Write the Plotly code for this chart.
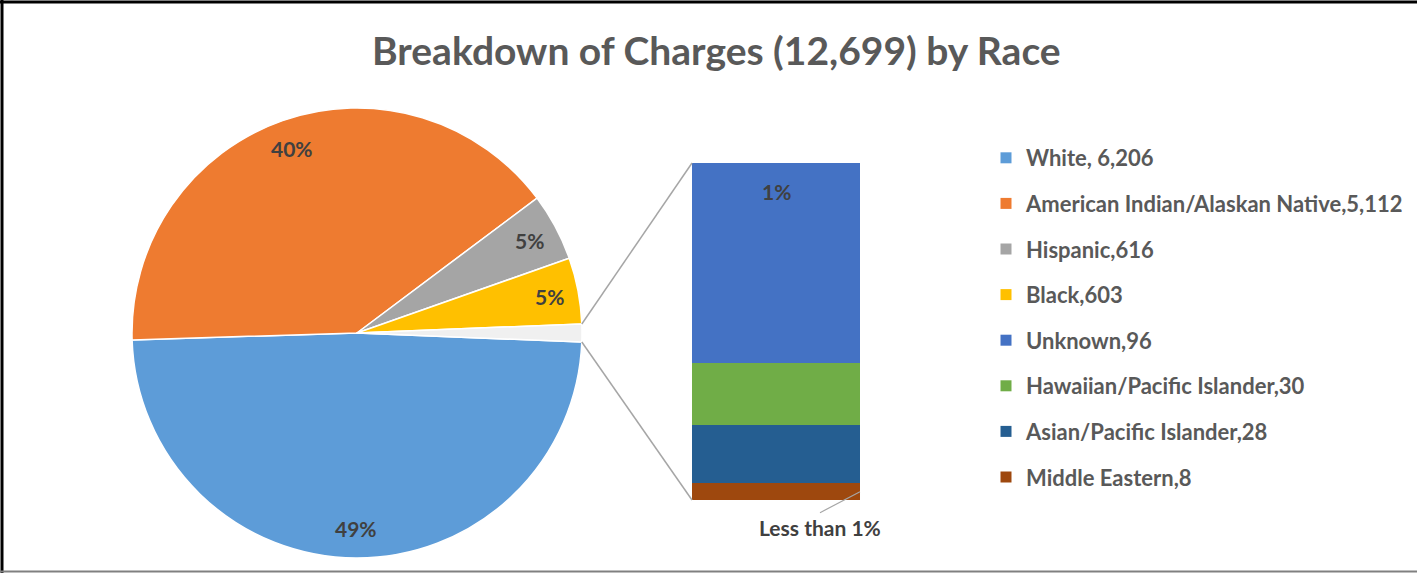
import math
import plotly.graph_objects as go

# ---------------- data ----------------
title_text = "Breakdown of Charges (12,699) by Race"
pie_labels = ["White", "American Indian/Alaskan Native", "Hispanic", "Black"]
pie_values = [6206, 5112, 616, 603]
pie_pct_text = ["49%", "40%", "5%", "5%"]
other_labels = ["Unknown", "Hawaiian/Pacific Islander", "Asian/Pacific Islander", "Middle Eastern"]
other_values = [96, 30, 28, 8]
legend_labels = ["White, 6,206", "American Indian/Alaskan Native,5,112", "Hispanic,616",
                 "Black,603", "Unknown,96", "Hawaiian/Pacific Islander,30",
                 "Asian/Pacific Islander,28", "Middle Eastern,8"]
bar_top_text = "1%"
bar_small_text = "Less than 1%"

# ---------------- styles ----------------
W, H = 1417, 573
pie_colors = ["#5D9CD8", "#EE7B30", "#A5A5A5", "#FFC000"]
other_slice_color = "#F0F0F0"
bar_colors = ["#4472C4", "#70AD47", "#255E91", "#9E480E"]
txt_color = "#404040"
FONT = "Lato"

# pie geometry (pixels)
cx, cy, R = 357, 333, 225
# bar geometry (pixels)
bx0, bx1, by0, by1 = 692, 860, 163, 500

def px(x):
    return x / W

def py(y):
    return 1 - y / H

other_total = sum(other_values)
all_vals = pie_values + [other_total]
total = sum(all_vals)
other_deg = other_total / total * 360
rotation = 90 + other_deg / 2  # "Other" slice centred at 3 o'clock

fig = go.Figure()

fig.add_trace(go.Pie(
    labels=pie_labels + ["Other"], values=all_vals, sort=False,
    direction="clockwise", rotation=rotation,
    marker=dict(colors=pie_colors + [other_slice_color], line=dict(color="white", width=1.5)),
    textinfo="none", hoverinfo="label+value", showlegend=False,
    domain=dict(x=[px(cx - R), px(cx + R)], y=[py(cy + R), py(cy - R)]),
))

# stacked bar for the "other" breakdown (bottom-up: Middle Eastern at bottom)
for lab, val, col in reversed(list(zip(other_labels, other_values, bar_colors))):
    fig.add_trace(go.Bar(x=["Other"], y=[val], name=lab, marker=dict(color=col, line=dict(width=0)),
                         showlegend=False, width=1, xaxis="x", yaxis="y"))

# legend dummies
legend_colors = pie_colors + bar_colors
for lab, col in zip(legend_labels, legend_colors):
    fig.add_trace(go.Scatter(x=[None], y=[None], mode="markers", name=lab, legendgroup=lab,
                             marker=dict(symbol="square", size=11, color=col), xaxis="x", yaxis="y"))

lab_font = dict(family=FONT, size=21, color=txt_color, weight="bold")

# pie percentage labels at 0.87 R on slice mid-angles
ann = []
start = rotation
for v, t in zip(pie_values, pie_pct_text):
    deg = v / total * 360
    mid = math.radians(start + deg / 2)
    x = cx + 0.87 * R * math.sin(mid)
    y = cy - 0.87 * R * math.cos(mid)
    ann.append(dict(x=px(x), y=py(y), xref="paper", yref="paper", text=t, showarrow=False,
                    xanchor="center", yanchor="middle", font=lab_font))
    start += deg

# bar labels
ann.append(dict(x=0, y=other_total, xref="x", yref="y", yshift=-29, text=bar_top_text, showarrow=False,
                xanchor="center", yanchor="middle", font=lab_font))
ann.append(dict(x=0.5, y=other_values[-1] / 2, xref="x", yref="y", text=bar_small_text,
                showarrow=True, arrowhead=0, arrowwidth=1.2, arrowcolor="#A6A6A6", ax=-40, ay=21,
                font=lab_font, xanchor="center", yanchor="top"))

# title
ann.append(dict(x=px(716), y=py(50), xref="paper", yref="paper", text=title_text, showarrow=False,
                xanchor="center", yanchor="middle",
                font=dict(family=FONT, size=39, color="#595959", weight="bold")))

# connector lines from pie "Other" slice edges to bar corners
a1 = math.radians(rotation - other_deg)
a2 = math.radians(rotation)
shapes = [
    dict(type="line", xref="paper", yref="paper", x0=px(cx + R * math.sin(a1)), y0=py(cy - R * math.cos(a1)),
         x1=px(bx0), y1=py(by0), line=dict(color="#A6A6A6", width=1.5)),
    dict(type="line", xref="paper", yref="paper", x0=px(cx + R * math.sin(a2)), y0=py(cy - R * math.cos(a2)),
         x1=px(bx0), y1=py(by1), line=dict(color="#A6A6A6", width=1.5)),
    # chart border
    dict(type="line", xref="paper", yref="paper", x0=0, y0=py(2), x1=1, y1=py(2), line=dict(color="black", width=3)),
    dict(type="line", xref="paper", yref="paper", x0=px(2), y0=py(0), x1=px(2), y1=py(573), line=dict(color="black", width=3)),
    dict(type="line", xref="paper", yref="paper", x0=0, y0=py(571.5), x1=1, y1=py(571.5), line=dict(color="#808080", width=2)),
]

fig.update_layout(
    width=W, height=H, autosize=False,
    margin=dict(l=0, r=0, t=0, b=0),
    paper_bgcolor="white", plot_bgcolor="white",
    barmode="stack", bargap=0,
    xaxis=dict(domain=[px(bx0), px(bx1)], range=[-0.5, 0.5], visible=False, fixedrange=True),
    yaxis=dict(domain=[py(by1), py(by0)], range=[0, other_total], visible=False, fixedrange=True),
    legend=dict(x=px(986), y=py(137), xanchor="left", yanchor="top", tracegroupgap=14,
                font=dict(family=FONT, size=22, color="#595959", weight="bold"),
                itemwidth=30, bgcolor="rgba(0,0,0,0)"),
    annotations=ann, shapes=shapes,
    font=dict(family=FONT),
)

fig.write_html("out.html", config={"displayModeBar": False},
               post_script="document.body.style.margin='0';document.body.style.overflow='hidden';")
